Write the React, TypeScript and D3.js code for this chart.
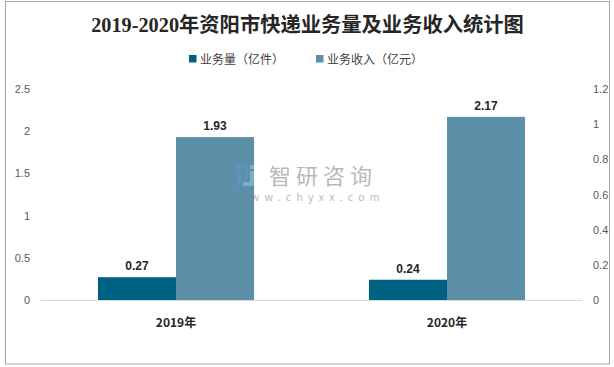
import React from "react";
import * as d3 from "d3";

const categories = ["2019年", "2020年"];
const volume = [0.27, 0.24]; // 业务量（亿件）
const revenue = [1.93, 2.17]; // 业务收入（亿元）
const leftTicks = [0, 0.5, 1, 1.5, 2, 2.5];
const rightTicks = [0, 0.2, 0.4, 0.6, 0.8, 1, 1.2];
const seriesNames = ["业务量（亿件）", "业务收入（亿元）"];
const seriesColors = ["#006283", "#5b90a8"];

const W = 614;
const H = 367;

const App: React.FC = () => {
  const x0 = d3
    .scaleBand<string>()
    .domain(categories)
    .range([40.5, 582.5])
    .paddingInner(0.424)
    .paddingOuter(0.212);

  const x1 = d3
    .scaleBand<number>()
    .domain([0, 1])
    .range([0, x0.bandwidth()]);

  const yLeft = d3.scaleLinear().domain([0, 2.5]).range([300, 89]);
  const yRight = d3.scaleLinear().domain([0, 1.2]).range([300, 89]);

  const series = [volume, revenue];

  return (
    <svg
      width={W}
      height={H}
      style={{ position: "absolute", left: 0, top: 0, background: "#fff" }}
      fontFamily="'Noto Sans CJK SC', 'Noto Sans', sans-serif"
    >
      {/* outer border */}
      <rect x={5.5} y={1.5} width={604} height={362.5} fill="#fff" stroke="#a6a6a6" strokeWidth={1} />

      {/* title */}
      <text
        x={307.5}
        y={32}
        textAnchor="middle"
        fontSize={20.3}
        fontWeight="bold"
        fill="#262626"
        fontFamily="'Liberation Serif', 'Noto Sans CJK SC', serif"
      >
        2019-2020年资阳市快递业务量及业务收入统计图
      </text>

      {/* legend */}
      {[189, 316].map((lx, i) => (
        <g key={i}>
          <rect x={lx} y={55} width={7.5} height={7.5} fill={seriesColors[i]} />
          <text x={lx + 11} y={64} fontSize={12} fill="#404040">
            {seriesNames[i]}
          </text>
        </g>
      ))}

      {/* baseline */}
      <line x1={40.5} x2={582.5} y1={300.5} y2={300.5} stroke="#d9d9d9" />

      {/* left axis */}
      {leftTicks.map((t) => (
        <text key={t} x={30} y={yLeft(t) + 4} textAnchor="end" fontSize={11} fill="#595959" fontFamily="'Liberation Sans', sans-serif">
          {t}
        </text>
      ))}

      {/* right axis */}
      {rightTicks.map((t) => (
        <text key={t} x={593} y={yRight(t) + 4} textAnchor="start" fontSize={11} fill="#595959" fontFamily="'Liberation Sans', sans-serif">
          {t}
        </text>
      ))}

      {/* bars */}
      {categories.map((c, ci) => (
        <g key={c} transform={`translate(${x0(c)},0)`}>
          {series.map((s, si) => (
            <g key={si}>
              <rect
                x={x1(si)}
                y={yLeft(s[ci])}
                width={x1.bandwidth()}
                height={300 - yLeft(s[ci])}
                fill={seriesColors[si]}
              />
              <text
                x={(x1(si) || 0) + x1.bandwidth() / 2}
                y={yLeft(s[ci]) - 7}
                textAnchor="middle"
                fontSize={12}
                fontWeight="bold"
                fill="#262626"
                fontFamily="'Liberation Sans', sans-serif"
              >
                {s[ci].toFixed(2)}
              </text>
            </g>
          ))}
        </g>
      ))}

      {/* watermark, drawn over the bars */}
      <g opacity={0.55}>
        <rect x={237} y={165} width={9} height={4} fill="#5b9bd5" />
        <rect x={237} y={171} width={4} height={15} fill="#5b9bd5" />
        <rect x={245} y={170} width={3} height={9} fill="#5b9bd5" />
        <rect x={250} y={165} width={4} height={4} fill="#9dc3e6" />
        <rect x={250} y={171} width={4} height={15} fill="#9dc3e6" />
        <rect x={243} y={182} width={7} height={4} fill="#9dc3e6" />
        <text x={269} y={184} fontSize={22} fill="#808080" letterSpacing={5}>
          智研咨询
        </text>
        <text x={237} y={201} fontSize={10.5} fill="#808080" letterSpacing={5.3}>
          www.chyxx.com
        </text>
      </g>

      {/* x labels */}
      {categories.map((c) => (
        <text
          key={c}
          x={(x0(c) || 0) + x0.bandwidth() / 2}
          y={327}
          textAnchor="middle"
          fontSize={12}
          fontWeight="bold"
          fill="#262626"
        >
          {c}
        </text>
      ))}
    </svg>
  );
};

export default App;
